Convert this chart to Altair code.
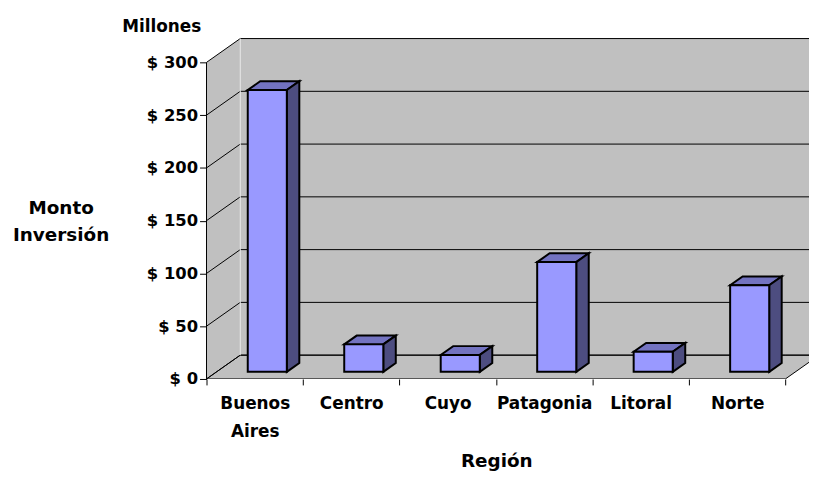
import json
import altair as alt
import pandas as pd

# ---- data ----
regions = ["Buenos Aires", "Centro", "Cuyo", "Patagonia", "Litoral", "Norte"]
montos = [267, 26, 16, 104, 19, 82]          # millones de $
y_ticks = [0, 50, 100, 150, 200, 250, 300]

# ---- pseudo-3D geometry (style constants) ----
N = len(regions)
CAT_PX = 97.2           # pixel width of one category on the front floor
W, H = 607, 350         # plot area
XMAX = W / CAT_PX
YMAX = 329.2
PX_PER_V = H / YMAX
DX = 34 / CAT_PX        # depth shift in x units
DV = 24 / PX_PER_V      # depth shift in value units
BAR = 0.405             # bar width (category units)
SHIFT = 0.025           # small extra x shift of the bars
F, B = 0.30, 0.67       # bar front/back depth fractions
TOPMAX = y_ticks[-1]

WALL = "#C0C0C0"
FRONT = "#9999FF"
TOP = "#7373C0"
SIDE = "#4D4D80"
FONT = "DejaVu Sans"

# ---- tables built from the lists ----
front_rows, face_rows = [], []
for i, (reg, v) in enumerate(zip(regions, montos)):
    xl, xr = i + 0.5 - BAR / 2 + SHIFT, i + 0.5 + BAR / 2 + SHIFT
    T = v + F * DV
    Tb = v + B * DV
    front_rows.append(dict(region=reg, x=xl + F * DX, x2=xr + F * DX, y=F * DV, y2=T))
    key = f"{i}-top"
    face_rows += [
        dict(key=key, fill=TOP, x=xl + F * DX, y=T, y2=T),
        dict(key=key, fill=TOP, x=xl + B * DX, y=T, y2=Tb),
        dict(key=key, fill=TOP, x=xr + F * DX, y=T, y2=Tb),
        dict(key=key, fill=TOP, x=xr + B * DX, y=Tb, y2=Tb),
    ]
    key = f"{i}-side"
    face_rows += [
        dict(key=key, fill=SIDE, x=xr + F * DX, y=F * DV, y2=T),
        dict(key=key, fill=SIDE, x=xr + B * DX, y=B * DV, y2=Tb),
    ]
front_df = pd.DataFrame(front_rows)
face_df = pd.DataFrame(face_rows)

back_df = pd.DataFrame([dict(x=DX, x2=XMAX, y=DV, y2=TOPMAX + DV)])
left_df = pd.DataFrame([dict(x=0, y=0, y2=TOPMAX), dict(x=DX, y=DV, y2=TOPMAX + DV)])
floor_df = pd.DataFrame([
    dict(x=0, y=0, y2=0), dict(x=DX, y=0, y2=DV),
    dict(x=N, y=0, y2=DV), dict(x=N + DX, y=DV, y2=DV),
])
grid_rows = []
for t in y_ticks:
    grid_rows += [dict(t=t, o=0, x=0, y=t), dict(t=t, o=1, x=DX, y=t + DV),
                  dict(t=t, o=2, x=XMAX, y=t + DV)]
grid_df = pd.DataFrame(grid_rows)
axis_df = pd.DataFrame([dict(x=0, y=0, y2=TOPMAX, c="black"),
                        dict(x=DX, y=DV, y2=TOPMAX + DV, c="#E6E6E6")])

# ---- scales and axes ----
xs = alt.Scale(domain=[0, XMAX], nice=False, zero=False)
ys = alt.Scale(domain=[0, YMAX], nice=False, zero=False)

label_arr = json.dumps(regions, ensure_ascii=False)
x_axis = alt.Axis(
    values=list(range(N + 1)),
    labelExpr=f"datum.value < {N} ? split({label_arr}[datum.value], ' ') : ''",
    labelOffset=CAT_PX / 2, labelFlush=False, labelOverlap=False,
    labelAlign="center", labelBaseline="top", labelPadding=11, labelLineHeight=28,
    labelFont=FONT, labelFontWeight="bold", labelFontSize=17, labelColor="black",
    tickSize=6, tickColor="black", domain=False, grid=False,
    title="Región", titleFont=FONT, titleFontWeight="bold", titleFontSize=18.5,
    titleColor="black", titleX=292, titleY=88, titleAlign="center",
    titleBaseline="alphabetic",
)
y_axis = alt.Axis(
    values=y_ticks, labelExpr="'$ ' + datum.value",
    labelFont=FONT, labelFontWeight="bold", labelFontSize=16.5, labelColor="black",
    labelPadding=2, labelFlush=False, labelOverlap=False,
    tickSize=7, tickColor="black", domain=False, grid=False,
    title=["Monto", "Inversión"], titleFont=FONT, titleFontWeight="bold",
    titleFontSize=18.5, titleColor="black", titleAngle=0, titleAlign="center",
    titleBaseline="middle", titleLineHeight=28, titleX=-147, titleY=177,
)


def X(f="x"):
    return alt.X(f, type="quantitative", scale=xs, axis=x_axis)


def Y(f="y"):
    return alt.Y(f, type="quantitative", scale=ys, axis=y_axis, stack=None)


back = alt.Chart(back_df).mark_rect(fill=WALL, clip=True).encode(
    x=X(), x2="x2", y=Y(), y2="y2")
left = alt.Chart(left_df).mark_area(fill=WALL, opacity=1).encode(
    x=X(), y=Y(), y2="y2")
floor = alt.Chart(floor_df).mark_area(
    fill=WALL, stroke="black", strokeWidth=1, opacity=1, clip=True).encode(
    x=X(), y=Y(), y2="y2")
grid = alt.Chart(grid_df).mark_line(color="black", strokeWidth=1, clip=True).encode(
    x=X(), y=Y(), detail="t:N", order="o:Q")
edges = alt.Chart(axis_df).mark_rule(strokeWidth=1).encode(
    x=X(), y=Y(), y2="y2", color=alt.Color("c:N", scale=None))
faces = alt.Chart(face_df).mark_area(
    stroke="black", strokeWidth=2, strokeJoin="miter", opacity=1).encode(
    x=X(), y=Y(), y2="y2", detail="key:N", fill=alt.Fill("fill:N", scale=None))
fronts = alt.Chart(front_df).mark_rect(
    fill=FRONT, stroke="black", strokeWidth=2, strokeJoin="miter").encode(
    x=X(), x2="x2", y=Y(), y2="y2")

chart = alt.layer(back, left, floor, grid, edges, faces, fronts).properties(
    width=W, height=H,
    autosize=alt.AutoSizeParams(type="none"),
    padding={"left": 200, "top": 22, "right": 0, "bottom": 93},
    title=alt.TitleParams("Millones", anchor="start", frame="group", dx=-85,
                          dy=17, offset=0, font=FONT, fontSize=17,
                          fontWeight="bold", color="black",
                          baseline="alphabetic"),
    background="white",
).configure_view(stroke="transparent")

chart.save("out.html", embed_options={"renderer": "svg", "actions": False})
